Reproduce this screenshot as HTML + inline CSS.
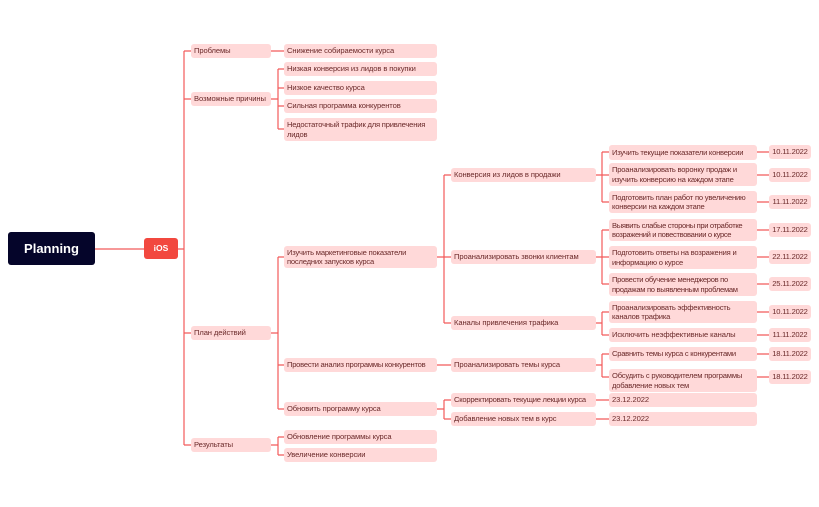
<!DOCTYPE html>
<html><head><meta charset="utf-8"><style>
body{margin:0;width:819px;height:507px;background:#fff;position:relative;overflow:hidden;font-family:"Liberation Sans","DejaVu Sans",sans-serif}
.b{position:absolute;background:#ffd9d9;border-radius:3px;color:#6b2a2a;font-size:7.6px;line-height:9.5px;padding:0 3px;box-sizing:border-box;display:flex;align-items:center;white-space:nowrap;overflow:hidden;letter-spacing:-0.1px}
.w{white-space:normal;letter-spacing:-0.2px}
.d{padding:0 2px;justify-content:center;letter-spacing:-0.2px}
svg{position:absolute;left:0;top:0}
</style></head><body>
<svg width="819" height="507" fill="none" stroke="#f25a5a" stroke-width="1.2" stroke-linejoin="round">
<path d="M95 249H144M178 249H184M184 51V445M184 51H191M184 99H191M184 333H191M184 445H191"/>
<path d="M271 51H284M271 99H278M278 69V129M278 69H284M278 88H284M278 106H284M278 129H284"/>
<path d="M271 333H278M278 257V409M278 257H284M278 365H284M278 409H284"/>
<path d="M271 445H278M278 437V455M278 437H284M278 455H284"/>
<path d="M437 257H444M444 175V323M444 175H451M444 257H451M444 323H451M437 365H451M437 409H444M444 400V419M444 400H451M444 419H451"/>
<path d="M596 175H602M602 152V202M602 152H609M602 175H609M602 202H609"/>
<path d="M596 257H602M602 230V284M602 230H609M602 257H609M602 284H609"/>
<path d="M596 323H602M602 312V335M602 312H609M602 335H609"/>
<path d="M596 365H602M602 354V377M602 354H609M602 377H609"/>
<path d="M596 400H609M596 419H609"/>
<path d="M757 152H769M757 175H769M757 202H769M757 230H769M757 257H769M757 284H769M757 312H769M757 335H769M757 354H769M757 377H769"/>
</svg>
<div class="b" style="left:8px;top:232px;width:87px;height:33px;background:#05052a;color:#fff;font-size:13px;font-weight:bold;justify-content:center;letter-spacing:0">Planning</div>
<div class="b" style="left:144px;top:238px;width:34px;height:21px;background:#f2483f;color:#fff;font-size:8.5px;font-weight:bold;justify-content:center;letter-spacing:0">iOS</div>

<div class="b" style="left:191px;top:44px;width:80px;height:14px">Проблемы</div>
<div class="b" style="left:191px;top:92px;width:80px;height:14px">Возможные причины</div>
<div class="b" style="left:191px;top:326px;width:80px;height:14px">План действий</div>
<div class="b" style="left:191px;top:438px;width:80px;height:14px">Результаты</div>

<div class="b" style="left:284px;top:44px;width:153px;height:14px">Снижение собираемости курса</div>
<div class="b" style="left:284px;top:62px;width:153px;height:14px">Низкая конверсия из лидов в покупки</div>
<div class="b" style="left:284px;top:81px;width:153px;height:14px">Низкое качество курса</div>
<div class="b" style="left:284px;top:99px;width:153px;height:14px">Сильная программа конкурентов</div>
<div class="b w" style="left:284px;top:118px;width:153px;height:23px">Недостаточный трафик для привлечения лидов</div>
<div class="b w" style="left:284px;top:246px;width:153px;height:22px">Изучить маркетинговые показатели последних запусков курса</div>
<div class="b" style="left:284px;top:358px;width:153px;height:14px;letter-spacing:-0.25px">Провести анализ программы конкурентов</div>
<div class="b" style="left:284px;top:402px;width:153px;height:14px">Обновить программу курса</div>
<div class="b" style="left:284px;top:430px;width:153px;height:14px">Обновление программы курса</div>
<div class="b" style="left:284px;top:448px;width:153px;height:14px">Увеличение конверсии</div>

<div class="b" style="left:451px;top:168px;width:145px;height:14px">Конверсия из лидов в продажи</div>
<div class="b" style="left:451px;top:250px;width:145px;height:14px">Проанализировать звонки клиентам</div>
<div class="b" style="left:451px;top:316px;width:145px;height:14px">Каналы привлечения трафика</div>
<div class="b" style="left:451px;top:358px;width:145px;height:14px">Проанализировать темы курса</div>
<div class="b" style="left:451px;top:393px;width:145px;height:14px;letter-spacing:-0.25px">Скорректировать текущие лекции курса</div>
<div class="b" style="left:451px;top:412px;width:145px;height:14px">Добавление новых тем в курс</div>

<div class="b" style="left:609px;top:145px;width:148px;height:15px;letter-spacing:-0.25px">Изучить текущие показатели конверсии</div>
<div class="b w" style="left:609px;top:163px;width:148px;height:23px">Проанализировать воронку продаж и изучить конверсию на каждом этапе</div>
<div class="b w" style="left:609px;top:191px;width:148px;height:22px">Подготовить план работ по увеличению конверсии на каждом этапе</div>
<div class="b w" style="left:609px;top:219px;width:148px;height:22px;letter-spacing:-0.35px">Выявить слабые стороны при отработке возражений и повествовании о курсе</div>
<div class="b w" style="left:609px;top:246px;width:148px;height:23px">Подготовить ответы на возражения и информацию о курсе</div>
<div class="b w" style="left:609px;top:273px;width:148px;height:23px;letter-spacing:-0.3px">Провести обучение менеджеров по продажам по выявленным проблемам</div>
<div class="b w" style="left:609px;top:301px;width:148px;height:22px">Проанализировать эффективность каналов трафика</div>
<div class="b" style="left:609px;top:328px;width:148px;height:14px">Исключить неэффективные каналы</div>
<div class="b" style="left:609px;top:347px;width:148px;height:14px;letter-spacing:-0.25px">Сравнить темы курса с конкурентами</div>
<div class="b w" style="left:609px;top:369px;width:148px;height:23px">Обсудить с руководителем программы добавление новых тем</div>
<div class="b" style="left:609px;top:393px;width:148px;height:14px">23.12.2022</div>
<div class="b" style="left:609px;top:412px;width:148px;height:14px">23.12.2022</div>

<div class="b d" style="left:769px;top:145px;width:42px;height:14px">10.11.2022</div>
<div class="b d" style="left:769px;top:168px;width:42px;height:14px">10.11.2022</div>
<div class="b d" style="left:769px;top:195px;width:42px;height:14px">11.11.2022</div>
<div class="b d" style="left:769px;top:223px;width:42px;height:14px">17.11.2022</div>
<div class="b d" style="left:769px;top:250px;width:42px;height:14px">22.11.2022</div>
<div class="b d" style="left:769px;top:277px;width:42px;height:14px">25.11.2022</div>
<div class="b d" style="left:769px;top:305px;width:42px;height:14px">10.11.2022</div>
<div class="b d" style="left:769px;top:328px;width:42px;height:14px">11.11.2022</div>
<div class="b d" style="left:769px;top:347px;width:42px;height:14px">18.11.2022</div>
<div class="b d" style="left:769px;top:370px;width:42px;height:14px">18.11.2022</div>
</body></html>
